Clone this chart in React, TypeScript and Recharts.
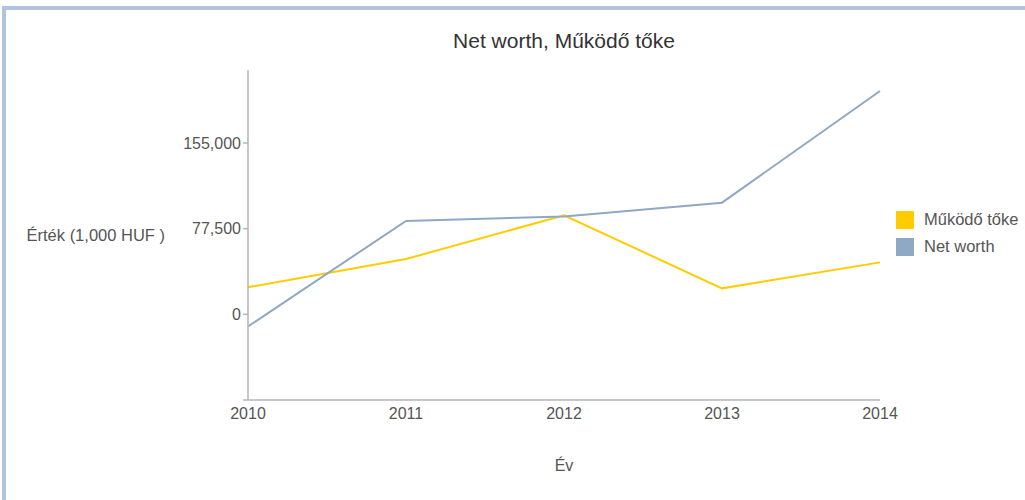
import { LineChart, Line, XAxis, YAxis, Label } from "recharts";

// ─── Data ────────────────────────────────────────────────────────────────────

const YEARS = ["2010", "2011", "2012", "2013", "2014"];
const NET_WORTH = [-11000, 84500, 88500, 101000, 202000];
const MUKODO_TOKE = [24500, 50000, 89500, 23500, 47000];
const Y_TICKS = [-77500, 0, 77500, 155000];

const TEXT = "#555555";
const AXIS = "#b4b4b4";
const YELLOW = "#ffcc00";
const BLUE = "#8fa8c4";
const FONT = "'Liberation Sans', Arial, Helvetica, sans-serif";

const SERIES = [
  { key: "mukodo", name: "Működő tőke", color: YELLOW },
  { key: "netWorth", name: "Net worth", color: BLUE },
];

const data = YEARS.map((year, i) => ({
  year,
  netWorth: NET_WORTH[i],
  mukodo: MUKODO_TOKE[i],
}));

const formatTick = (v: number) => (v === -77500 ? "" : v.toLocaleString("en-US"));

export default function App() {
  return (
    <div
      style={{
        position: "absolute",
        left: 0,
        top: 0,
        width: 1025,
        height: 500,
        overflow: "hidden",
        background: "#fff",
        fontFamily: FONT,
      }}
    >
      <div
        style={{
          position: "absolute",
          left: 2,
          top: 6,
          width: 1040,
          height: 520,
          borderTop: "4px solid #b0c4de",
          borderLeft: "4px solid #b0c4de",
        }}
      />
      <div
        style={{
          position: "absolute",
          left: 364,
          width: 400,
          top: 29,
          textAlign: "center",
          fontSize: 21,
          color: "#333",
        }}
      >
        Net worth, Működő tőke
      </div>

      {/* legend */}
      <div style={{ position: "absolute", left: 896, top: 206 }}>
        {SERIES.map((s) => (
          <div key={s.key} style={{ display: "flex", alignItems: "center", height: 27 }}>
            <span
              style={{
                display: "inline-block",
                width: 18,
                height: 18,
                background: s.color,
                marginRight: 10,
              }}
            />
            <span style={{ fontSize: 16.5, color: TEXT }}>{s.name}</span>
          </div>
        ))}
      </div>

      <div style={{ position: "absolute", left: 0, top: 0 }}>
        <LineChart
          width={1025}
          height={500}
          data={data}
          margin={{ top: 70, right: 145, left: 168, bottom: 70 }}
        >
          <XAxis
            dataKey="year"
            height={30}
            stroke={AXIS}
            strokeWidth={1.5}
            tickLine={false}
            tick={{ fill: TEXT, fontSize: 16 }}
          >
            <Label
              value="Év"
              position="bottom"
              offset={30}
              style={{ fill: TEXT, fontSize: 16 }}
            />
          </XAxis>
          <YAxis
            width={80}
            domain={[-77500, 221000]}
            ticks={Y_TICKS}
            tickFormatter={formatTick}
            stroke={AXIS}
            strokeWidth={1.5}
            tickSize={5}
            tickMargin={2}
            tick={{ fill: TEXT, fontSize: 16 }}
            allowDataOverflow
          >
            <Label
              value="Érték (1,000 HUF )"
              position="left"
              offset={3}
              style={{ fill: TEXT, fontSize: 16.5, textAnchor: "end" }}
            />
          </YAxis>
          {SERIES.map((s) => (
            <Line
              key={s.key}
              type="linear"
              dataKey={s.key}
              name={s.name}
              stroke={s.color}
              strokeWidth={2}
              dot={false}
              isAnimationActive={false}
            />
          ))}
        </LineChart>
      </div>
    </div>
  );
}
